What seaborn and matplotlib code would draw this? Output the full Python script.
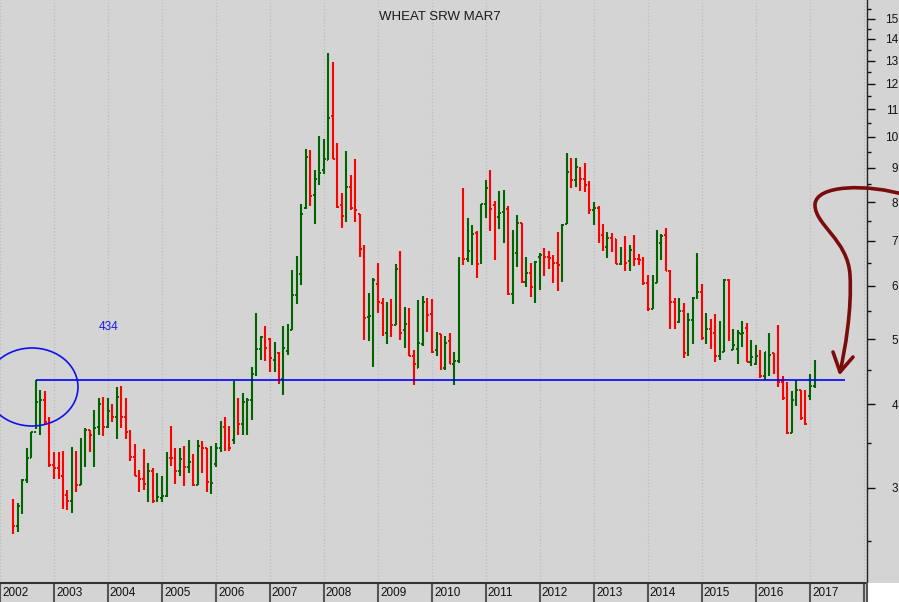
import numpy as np
import pandas as pd
import matplotlib.pyplot as plt
import matplotlib.dates as mdates
import matplotlib.transforms as mtransforms
from matplotlib.patches import Ellipse, Rectangle, PathPatch
from matplotlib.path import Path
from matplotlib.lines import Line2D
from matplotlib.ticker import FixedLocator, NullFormatter
import seaborn as sns

sns.set_theme(style="white", rc={"axes.facecolor": "#d4d4d4",
                                 "figure.facecolor": "#d4d4d4"})
plt.rcParams["font.family"] = ["Liberation Sans", "DejaVu Sans"]

# monthly bars, cents per bushel, Apr 2002 .. Feb 2017
first_month = "2002-04-01"

opens = [
    283, 263, 282, 308, 333, 363, 403, 406, 376,
    324, 321, 313, 293, 287, 324, 303, 350, 366, 360, 370, 400,
    370, 391, 382, 410, 382, 363, 334, 312, 309, 304, 318, 287,
    290, 292, 333, 332, 318, 331, 322, 328, 303, 347, 344, 303,
    326, 344, 370, 345, 354, 400, 373, 403, 406, 444, 483, 504,
    500, 465, 476, 436, 480, 516, 582, 625, 783, 954, 820, 865,
    892, 923, 1075, 926, 791, 759, 841, 783, 768, 681, 539, 542,
    604, 566, 510, 533, 524, 636, 516, 530, 471, 453, 492, 565,
    545, 481, 509, 452, 496, 459, 463, 661, 659, 674, 720, 649,
    794, 845, 791, 760, 772, 780, 584, 672, 744, 609, 628, 598,
    663, 667, 663, 661, 650, 645, 741, 886, 862, 889, 865, 848,
    778, 783, 714, 686, 707, 705, 647, 663, 654, 679, 659, 656,
    605, 555, 607, 695, 714, 632, 567, 530, 551, 477, 533, 576,
    588, 502, 517, 511, 471, 479, 613, 481, 483, 508, 519, 462,
    459, 474, 441, 460, 476, 465, 432, 408, 362, 406, 420, 411,
    411, 425,
]
highs = [
    289, 285, 309, 344, 363, 434, 420, 418, 383,
    339, 339, 340, 298, 345, 340, 356, 369, 366, 392, 408, 410,
    408, 400, 424, 426, 408, 366, 349, 319, 343, 327, 321, 316,
    313, 339, 371, 344, 344, 347, 354, 337, 354, 353, 344, 347,
    350, 378, 382, 371, 433, 408, 415, 408, 454, 546, 506, 523,
    502, 495, 478, 523, 526, 634, 665, 794, 961, 958, 892, 1004,
    994, 1334, 1293, 981, 824, 954, 877, 928, 768, 691, 586, 617,
    648, 576, 568, 574, 647, 676, 559, 557, 481, 572, 580, 576,
    574, 512, 509, 506, 510, 478, 663, 839, 757, 739, 724, 794,
    862, 892, 802, 830, 833, 788, 727, 765, 744, 663, 650, 654,
    672, 684, 677, 667, 721, 741, 945, 930, 930, 902, 914, 859,
    799, 788, 741, 721, 719, 705, 686, 712, 690, 714, 669, 663,
    622, 622, 727, 717, 731, 634, 576, 576, 566, 547, 578, 672,
    604, 547, 535, 544, 531, 615, 615, 517, 515, 531, 529, 499,
    490, 481, 478, 511, 476, 524, 441, 432, 418, 434, 420, 420,
    444, 465,
]
lows = [
    256, 258, 274, 305, 333, 367, 360, 373, 322,
    309, 309, 279, 278, 275, 296, 303, 322, 339, 322, 360, 358,
    368, 376, 355, 368, 355, 329, 312, 296, 298, 286, 285, 286,
    286, 291, 323, 304, 312, 302, 316, 302, 303, 316, 296, 294,
    322, 339, 340, 341, 349, 360, 360, 360, 379, 440, 465, 463,
    447, 447, 428, 413, 474, 516, 564, 601, 780, 790, 741, 847,
    880, 923, 926, 783, 731, 746, 778, 746, 663, 498, 496, 455,
    547, 506, 491, 503, 524, 498, 485, 471, 427, 453, 488, 512,
    477, 472, 450, 450, 459, 427, 461, 645, 652, 645, 617, 647,
    757, 724, 656, 729, 695, 582, 564, 641, 607, 598, 578, 566,
    592, 620, 636, 607, 590, 609, 741, 839, 841, 830, 827, 767,
    739, 695, 676, 660, 674, 647, 645, 632, 632, 643, 645, 601,
    551, 555, 607, 656, 632, 518, 518, 528, 468, 471, 492, 574,
    499, 492, 483, 462, 465, 479, 496, 481, 459, 487, 462, 456,
    458, 437, 435, 441, 444, 424, 406, 361, 362, 398, 379, 372,
    405, 422,
]
closes = [
    263, 282, 308, 333, 363, 403, 406, 376, 324,
    321, 313, 287, 287, 324, 303, 350, 366, 360, 369, 400, 370,
    391, 382, 410, 382, 363, 334, 312, 309, 304, 318, 287, 291,
    292, 333, 332, 318, 331, 322, 328, 303, 347, 344, 306, 305,
    344, 370, 345, 344, 400, 373, 403, 406, 443, 483, 504, 485,
    469, 472, 436, 485, 516, 582, 630, 767, 933, 818, 865, 883,
    926, 1068, 926, 786, 762, 841, 783, 778, 681, 537, 542, 613,
    567, 510, 533, 524, 636, 511, 526, 471, 459, 494, 567, 543,
    479, 509, 452, 494, 459, 463, 661, 659, 676, 717, 647, 794,
    839, 780, 775, 770, 780, 584, 672, 744, 609, 628, 598, 652,
    667, 663, 661, 650, 645, 739, 886, 862, 902, 865, 848, 778,
    783, 707, 686, 707, 705, 647, 665, 650, 679, 659, 656, 605,
    555, 599, 697, 712, 632, 567, 530, 551, 477, 533, 576, 588,
    502, 517, 511, 471, 479, 613, 499, 490, 511, 511, 462, 470,
    472, 441, 478, 474, 465, 432, 408, 362, 406, 420, 381, 373,
    425, 447,
]

years = list(range(2002, 2019))
price_ticks = [300, 400, 500, 600, 700, 800, 900, 1000, 1100, 1200, 1300, 1400, 1500]
minor_ticks = [250, 350, 450, 550, 650, 750, 850, 950, 1050, 1150, 1250, 1350, 1450, 1550]
support = 434
support_from, support_to = "2002-09-01", "2017-08-25"
title = "WHEAT SRW MAR7"

df = pd.DataFrame({"open": opens, "high": highs, "low": lows, "close": closes},
                  index=pd.date_range(first_month, periods=len(opens), freq="MS"))
df["x"] = mdates.date2num(df.index.to_pydatetime())
df["color"] = np.where(df["close"] >= df["open"], "#006400", "#ff0000")

W, H = 899, 602
fig = plt.figure(figsize=(W / 100, H / 100), dpi=100)
ax = fig.add_axes([0, 19 / H, 867 / W, 583 / H])

ax.vlines(df["x"], df["low"], df["high"], colors=df["color"], lw=1.5, zorder=3)
ax.hlines(df["open"], df["x"] - 12, df["x"], colors=df["color"], lw=1.4, zorder=3)
ax.hlines(df["close"], df["x"], df["x"] + 12, colors=df["color"], lw=1.4, zorder=3)

ax.hlines(support, mdates.datestr2num(support_from), mdates.datestr2num(support_to),
          color="#0000ff", lw=1.2, zorder=4)
ax.text(mdates.datestr2num("2003-10-28"), 521, str(support), color="#1a1aee",
        fontsize=8.5, ha="left", va="center")
ax.add_patch(Ellipse((0.0369, 0.3362), 0.1061, 0.1338, transform=ax.transAxes,
                     fill=False, edgecolor="#1010ee", lw=1.2, zorder=4))

ax.set_yscale("log")
ax.set_ylim(216.5, 1600)
ax.set_xlim(mdates.datestr2num("2002-01-13"), mdates.datestr2num("2018-01-22"))

ax.yaxis.set_major_locator(FixedLocator(price_ticks))
ax.yaxis.set_minor_locator(FixedLocator(minor_ticks))
ax.yaxis.set_minor_formatter(NullFormatter())
ax.set_yticklabels([str(v // 100) for v in price_ticks])
ax.yaxis.tick_right()
ax.tick_params(axis="y", which="major", right=True, left=False, length=5.8, width=1,
               color="#111111", pad=16.5, labelsize=8.5, labelcolor="#111111")
ax.tick_params(axis="y", which="minor", right=True, left=False, length=3.2, width=1,
               color="#111111")
for lbl in ax.get_yticklabels():
    lbl.set_horizontalalignment("right")

year_x = [mdates.datestr2num(f"{y}-01-01") for y in years]
ax.set_xticks(year_x)
ax.set_xticklabels([])
ax.tick_params(axis="x", which="major", bottom=True, length=13.7, width=1.5,
               color="#555555")
ax.grid(True, axis="x", color="#bdbdbd", linestyle=":", lw=0.9)
ax.grid(False, axis="y")

label_tf = mtransforms.blended_transform_factory(ax.transData, ax.transAxes) + \
    mtransforms.ScaledTranslation(2 / 100, 0, fig.dpi_scale_trans)
for y, xv in zip(years, year_x):
    ax.text(xv, -10 / 583, str(y), transform=label_tf, fontsize=8.5, color="#111111",
            ha="left", va="center", clip_on=False)

ax.text(439.5 / 867, 1 - 17 / 583, title, transform=ax.transAxes, fontsize=9.5,
        color="#1a1a1a", ha="center", va="center")

for side in ["top", "left"]:
    ax.spines[side].set_visible(False)
ax.spines["bottom"].set_color("#333333")
ax.spines["bottom"].set_linewidth(1.5)
ax.spines["right"].set_color("#222222")
ax.spines["right"].set_linewidth(1)

# figure-pixel overlays (image coordinates, y downwards)
px = mtransforms.Affine2D().scale(1, -1).translate(0, H)
fig.add_artist(Rectangle((867, 583), W - 867, H - 583, transform=px,
                         facecolor="white", edgecolor="none", zorder=5))
fig.add_artist(Line2D([866.5, 866.5], [583, H], transform=px, color="#555555",
                      lw=1.5, zorder=6))

arrow = Path([(905, 195), (870, 184), (815, 184), (815, 205),
              (815, 225), (848, 240), (850, 275),
              (852, 310), (845, 350), (840, 372)],
             [Path.MOVETO, Path.CURVE4, Path.CURVE4, Path.CURVE4,
              Path.CURVE4, Path.CURVE4, Path.CURVE4,
              Path.CURVE4, Path.CURVE4, Path.CURVE4])
fig.add_artist(PathPatch(arrow, transform=px, fill=False, edgecolor="#7a0c0c",
                         lw=2.6, capstyle="round", zorder=6))
fig.add_artist(Line2D([833, 840, 853], [352, 372, 357], transform=px,
                      color="#7a0c0c", lw=2.6, solid_capstyle="round",
                      solid_joinstyle="round", zorder=6))

fig.savefig("out.png", dpi=100)
